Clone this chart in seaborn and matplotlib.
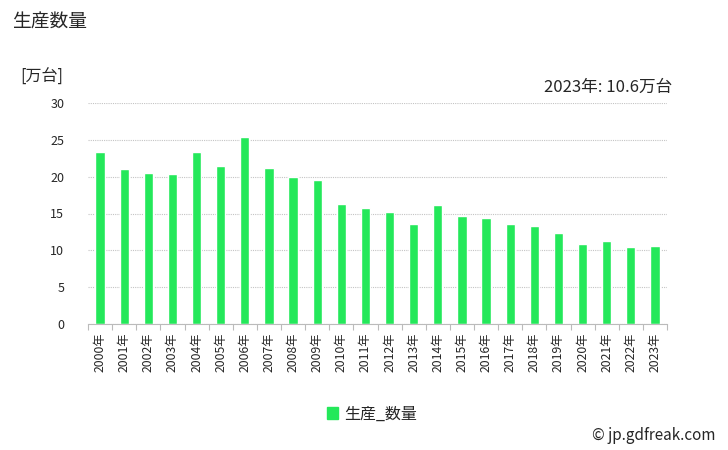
import matplotlib
matplotlib.use("Agg")
import matplotlib.pyplot as plt
import seaborn as sns
import pandas as pd
import numpy as np

years = [f"{y}年" for y in range(2000, 2024)]
values = [23.4, 21.1, 20.5, 20.3, 23.4, 21.4, 25.4, 21.2, 20.0, 19.6, 16.3, 15.8,
          15.2, 13.6, 16.1, 14.7, 14.4, 13.6, 13.3, 12.4, 10.8, 11.3, 10.5, 10.6]
series_name = "生産_数量"
yticks = [0, 5, 10, 15, 20, 25, 30]

sns.set_theme(style="white")
plt.rcParams['font.family'] = ['Noto Sans CJK JP', 'DejaVu Sans']

df = pd.DataFrame({"year": years, "value": values, "series": series_name})

fig = plt.figure(figsize=(7.28, 4.5), dpi=100)
ax = fig.add_axes([88/728, 1-324/450, (667-88)/728, (324-103)/450])

color = "#24E85A"
sns.barplot(data=df, x="year", y="value", hue="series", palette=[color],
            width=0.38, ax=ax, legend=False, saturation=1)

ax.set_ylim(0, 30)
ax.set_xlim(-0.5, len(years) - 0.5)
ax.set_yticks(yticks)
ax.set_yticklabels([str(t) for t in yticks], fontsize=9)
ax.yaxis.grid(True, linestyle=(0, (1, 1)), color="#c4c4c4", linewidth=0.8)
ax.set_axisbelow(True)
ax.tick_params(axis="y", length=0, pad=17)
ax.set_xticks(range(len(years)))
ax.set_xticklabels(years, rotation=90, fontsize=8.8)
ax.set_xticks(np.arange(-0.5, len(years), 1.0), minor=True)
ax.tick_params(axis="x", which="major", length=0, pad=6)
ax.tick_params(axis="x", which="minor", length=4, color="#bbbbbb", width=0.8, bottom=True)
for s in ["top", "right", "left"]:
    ax.spines[s].set_visible(False)
ax.spines["bottom"].set_color("#bbbbbb")
ax.spines["bottom"].set_linewidth(0.8)
ax.set_xlabel("")
ax.set_ylabel("")

fig.text(12/728, 1-22/450, "生産数量", fontsize=13.5, va="center", ha="left")
fig.text(20/728, 1-77/450, "[万台]", fontsize=11.5, va="center", ha="left")
fig.text(672/728, 1-87/450, f"{years[-1]}: {values[-1]}万台", fontsize=12, va="center", ha="right")

from matplotlib.patches import Patch
fig.legend(handles=[Patch(color=color, label=series_name)], loc="center",
           bbox_to_anchor=(372/728, 1-414/450), frameon=False, fontsize=11.5,
           handlelength=0.7, handleheight=0.7, handletextpad=0.4)
fig.text(716/728, 1-435/450, "© jp.gdfreak.com", fontsize=11, va="center", ha="right")

fig.savefig("out.png", dpi=100)
